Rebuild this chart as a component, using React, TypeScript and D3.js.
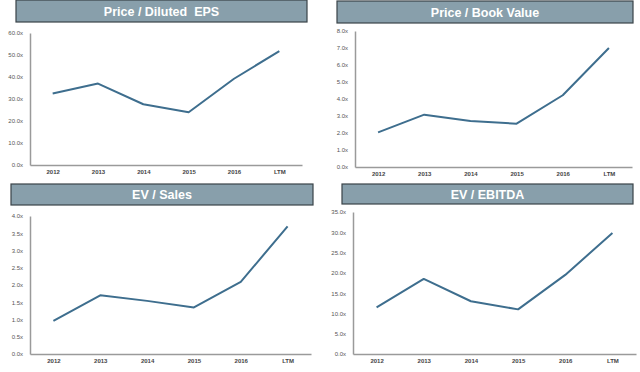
import React, { useEffect, useRef } from "react";
import * as d3 from "d3";

const years = ["2012", "2013", "2014", "2015", "2016", "LTM"];

const priceEps = [32.5, 37.0, 27.6, 24.0, 39.2, 51.8];
const priceBook = [2.04, 3.08, 2.7, 2.55, 4.22, 7.0];
const evSales = [0.96, 1.7, 1.54, 1.35, 2.09, 3.7];
const evEbitda = [11.5, 18.5, 13.0, 11.0, 19.5, 29.8];

const titles = ["Price / Diluted  EPS", "Price / Book Value", "EV / Sales", "EV / EBITDA"];
const yMax = [60, 8, 4, 35];
const yStep = [10, 1, 0.5, 5];

// layout of each panel (bar, axis box)
const panels = [
  { values: priceEps, bar: [16, 0, 291, 22], x0: 30, x1: 302, yTop: 33, yBot: 165, labY: 176 },
  { values: priceBook, bar: [337, 1, 296, 22], x0: 355, x1: 632, yTop: 31, yBot: 167, labY: 178 },
  { values: evSales, bar: [11, 184, 302, 21], x0: 30, x1: 311, yTop: 216, yBot: 354, labY: 365 },
  { values: evEbitda, bar: [342, 184, 291, 20], x0: 353, x1: 636, yTop: 212, yBot: 354, labY: 365 },
];

function App() {
  const svgRef: any = useRef(null);

  useEffect(() => {
    draw();
  }, []);

  const draw = () => {
    const root = d3.select(svgRef.current);
    root.selectAll("*").remove();
    root.append("rect").attr("width", 640).attr("height", 372).attr("fill", "#ffffff");

    panels.forEach((p, i) => {
      const g = root.append("g");

      // title bar
      g.append("rect")
        .attr("x", p.bar[0])
        .attr("y", p.bar[1])
        .attr("width", p.bar[2])
        .attr("height", p.bar[3])
        .attr("fill", "#889fab")
        .attr("stroke", "#3a4348")
        .attr("stroke-width", 1.2);
      g.append("text")
        .attr("x", p.bar[0] + p.bar[2] / 2)
        .attr("y", p.bar[1] + p.bar[3] / 2 + 4.5)
        .attr("text-anchor", "middle")
        .attr("fill", "#ffffff")
        .attr("font-family", "Liberation Sans, Arial, sans-serif")
        .attr("font-weight", "bold")
        .attr("font-size", 12.5)
        .style("white-space", "pre")
        .text(titles[i]);

      const x = d3.scalePoint().domain(years).range([p.x0, p.x1]).padding(0.5);
      const y = d3.scaleLinear().domain([0, yMax[i]]).range([p.yBot, p.yTop]);

      const ticks = d3.range(0, yMax[i] + yStep[i] / 2, yStep[i]);

      // y axis
      const yAxis = g
        .append("g")
        .attr("transform", `translate(${p.x0},0)`)
        .call(
          d3
            .axisLeft(y)
            .tickValues(ticks)
            .tickSize(0)
            .tickPadding(7)
            .tickFormat((d: any) => d3.format(".1f")(d) + "x")
        );
      yAxis.select(".domain").attr("stroke", "#9a9a9a").attr("stroke-width", 1.5);
      yAxis
        .selectAll("text")
        .attr("fill", "#555555")
        .attr("font-size", 6)
        .attr("font-family", "Liberation Sans, Arial, sans-serif");

      // x axis
      const xAxis = g
        .append("g")
        .attr("transform", `translate(0,${p.yBot})`)
        .call(d3.axisBottom(x).tickSize(0).tickPadding(p.labY - p.yBot - 6));
      xAxis.select(".domain").attr("stroke", "#9a9a9a").attr("stroke-width", 1.5);
      xAxis
        .selectAll("text")
        .attr("fill", "#444444")
        .attr("font-size", 6)
        .attr("font-weight", "bold")
        .attr("font-family", "Liberation Sans, Arial, sans-serif");

      // series line
      const line = d3
        .line<number>()
        .x((d, j) => x(years[j]) as number)
        .y((d) => y(d));
      g.append("path")
        .datum(p.values)
        .attr("fill", "none")
        .attr("stroke", "#3e6e8e")
        .attr("stroke-width", 2)
        .attr("stroke-linejoin", "round")
        .attr("d", line as any);
    });
  };

  return (
    <svg
      ref={svgRef}
      width={640}
      height={372}
      style={{ position: "absolute", left: 0, top: 0, display: "block" }}
    />
  );
}

export default App;
